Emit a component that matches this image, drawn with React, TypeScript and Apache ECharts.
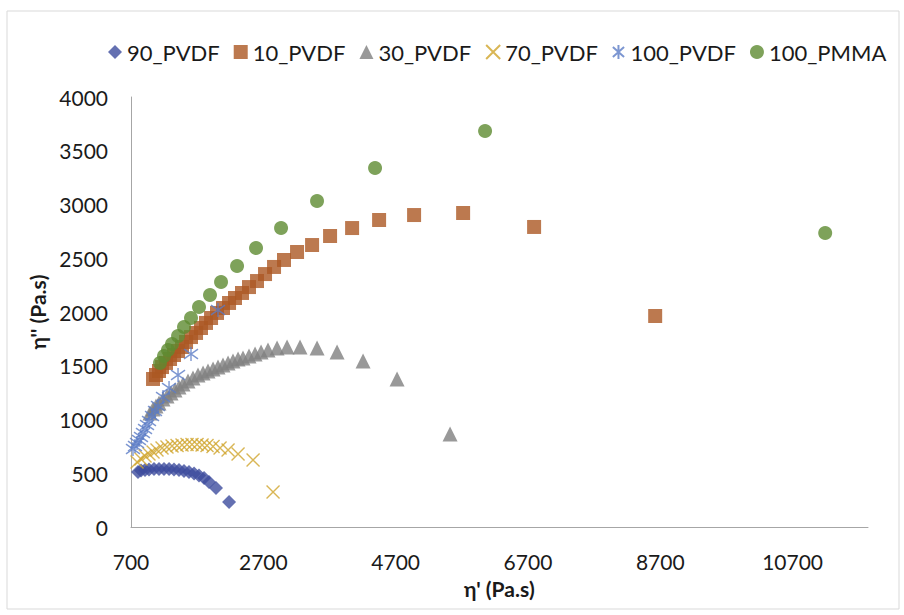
import React, { useEffect, useRef } from "react";
import * as echarts from "echarts";

const seriesNames = ["90_PVDF", "10_PVDF", "30_PVDF", "70_PVDF", "100_PVDF", "100_PMMA"];
const xTickValues = [700, 2700, 4700, 6700, 8700, 10700];

// [eta', eta''] pairs
const pvdf90: [number, number][] = [
  [2182, 233], [1985, 363], [1879, 419], [1804, 456], [1728, 479], [1653, 498], [1577, 512],
  [1501, 521], [1426, 530], [1350, 535], [1275, 540], [1199, 540], [1123, 540], [1048, 540],
  [972, 535], [912, 530], [851, 526], [806, 512],
];
const pvdf10: [number, number][] = [
  [8623, 1963], [6793, 2791], [5720, 2921], [4979, 2902], [4450, 2856], [4042, 2781], [3709, 2707],
  [3437, 2623], [3210, 2558], [3013, 2484], [2862, 2419], [2726, 2353], [2605, 2288], [2484, 2232],
  [2378, 2177], [2272, 2130], [2182, 2084], [2091, 2037], [2000, 1991], [1910, 1944], [1834, 1898],
  [1758, 1851], [1683, 1805], [1607, 1767], [1532, 1721], [1471, 1674], [1411, 1637], [1350, 1600],
  [1290, 1563], [1229, 1526], [1169, 1488], [1123, 1451], [1078, 1414], [1033, 1377],
];
const pvdf30: [number, number][] = [
  [5523, 865], [4722, 1377], [4208, 1544], [3815, 1628], [3512, 1665], [3255, 1674], [3059, 1674],
  [2908, 1665], [2771, 1646], [2666, 1628], [2575, 1609], [2484, 1591], [2393, 1572], [2318, 1563],
  [2242, 1544], [2167, 1526], [2091, 1507], [2015, 1488], [1940, 1470], [1864, 1451], [1789, 1433],
  [1713, 1414], [1637, 1386], [1562, 1358], [1486, 1330], [1426, 1302], [1365, 1274], [1305, 1246],
  [1244, 1219], [1184, 1191], [1123, 1153], [1078, 1126], [1033, 1098], [987, 1060],
];
const pvdf70: [number, number][] = [
  [2847, 326], [2545, 623], [2318, 679], [2167, 716], [2046, 735], [1940, 749], [1849, 758],
  [1774, 763], [1698, 767], [1622, 767], [1547, 767], [1471, 763], [1396, 758], [1320, 753],
  [1244, 744], [1169, 735], [1093, 716], [1033, 698], [972, 679], [912, 660], [851, 633], [791, 605],
];
const pvdf100: [number, number][] = [
  [2015, 2019], [1607, 1609], [1411, 1414], [1275, 1293], [1184, 1209], [1108, 1126], [1063, 1079],
  [1018, 1033], [972, 986], [942, 949], [912, 912], [881, 874], [851, 837], [821, 809], [791, 781],
  [760, 753], [730, 726],
];
const pmma100: [number, number][] = [
  [11193, 2735], [6052, 3684], [4389, 3339], [3512, 3033], [2968, 2781], [2590, 2595], [2303, 2428],
  [2061, 2279], [1894, 2158], [1728, 2046], [1607, 1944], [1501, 1860], [1411, 1777], [1320, 1702],
  [1259, 1646], [1199, 1591], [1138, 1526],
];

const colors = ["#3D4C9E", "#AB5823", "#7F7F7F", "#CFA42A", "#5B7CC6", "#5E8B31"];
const FONT = "Lato, 'Open Sans', 'DejaVu Sans', sans-serif";

const X_PATH = "path://M0,0 L20,20 M0,20 L20,0";
const STAR_PATH = "path://M10,0 L10,20 M2,3 L18,17 M2,17 L18,3";

export default function App() {
  const ref = useRef<HTMLDivElement>(null);
  useEffect(() => {
    if (!ref.current) return;
    const chart = echarts.init(ref.current, null, { renderer: "svg" });
    const datasets = [pvdf90, pvdf10, pvdf30, pvdf70, pvdf100, pmma100];
    const symbols = ["diamond", "rect", "triangle", X_PATH, STAR_PATH, "circle"];
    const sizes = [14, 14, 15, 13, 14, 14];
    chart.setOption({
      animation: false,
      backgroundColor: "#ffffff",
      color: colors,
      graphic: [
        {
          type: "rect",
          shape: { x: 7, y: 11, width: 892, height: 598 },
          style: { fill: "none", stroke: "#D9D9D9", lineWidth: 1 },
          silent: true,
        },
      ],
      legend: {
        top: 36,
        left: 103,
        itemWidth: 14,
        itemHeight: 14,
        itemGap: 14,
        textStyle: { fontFamily: FONT, fontSize: 22, color: "#1a1a1a" },
        data: seriesNames,
      },
      grid: { left: 131, right: 36, top: 97, bottom: 88, containLabel: false },
      xAxis: {
        type: "value",
        min: 700,
        max: 11840,
        name: "η' (Pa.s)",
        nameLocation: "middle",
        nameGap: 51,
        nameTextStyle: { fontFamily: FONT, fontSize: 21, fontWeight: "bold", color: "#1a1a1a" },
        axisLine: { show: true, lineStyle: { color: "#A6A6A6", width: 1 } },
        axisTick: { show: false },
        splitLine: { show: false },
        axisLabel: {
          customValues: xTickValues,
          margin: 24,
          fontFamily: FONT,
          fontSize: 21,
          color: "#1a1a1a",
          formatter: (v: number) => String(v),
        },
      },
      yAxis: {
        type: "value",
        min: 0,
        max: 4000,
        interval: 500,
        name: "η'' (Pa.s)",
        nameLocation: "middle",
        nameGap: 80,
        nameTextStyle: { fontFamily: FONT, fontSize: 21, fontWeight: "bold", color: "#1a1a1a" },
        axisLine: { show: true, lineStyle: { color: "#A6A6A6", width: 1 } },
        axisTick: { show: false },
        splitLine: { show: false },
        axisLabel: {
          margin: 23,
          fontFamily: FONT,
          fontSize: 21,
          color: "#1a1a1a",
          formatter: (v: number) => String(v),
        },
      },
      series: datasets.map((d, i) => ({
        name: seriesNames[i],
        type: "scatter",
        data: d,
        symbol: symbols[i],
        symbolSize: sizes[i],
        itemStyle:
          i === 3 || i === 4
            ? { color: colors[i], borderColor: colors[i], borderWidth: 1.4 }
            : { color: colors[i] },
      })),
    });
    return () => chart.dispose();
  }, []);
  return (
    <div
      ref={ref}
      style={{ position: "fixed", left: 0, top: 0, width: 904, height: 615 }}
    />
  );
}
